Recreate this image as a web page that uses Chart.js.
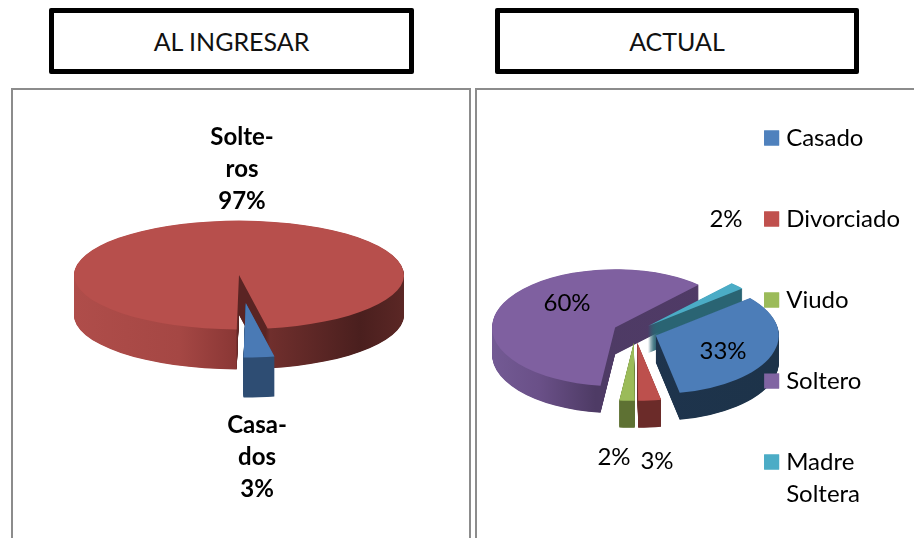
<!DOCTYPE html>
<html><head><meta charset="utf-8">
<script src="https://cdn.jsdelivr.net/npm/chart.js@4"></script>
<style>
html,body{margin:0;padding:0;background:#fff;width:914px;height:538px;overflow:hidden;position:relative;font-family:Lato,sans-serif}
.title{position:absolute;top:8px;height:56px;border:5px solid #000;border-radius:2px;background:#fff;display:flex;align-items:center;justify-content:center;font-size:25px;color:#111;box-sizing:content-box}
.frame{position:absolute;top:88px;height:460px;border:2px solid #8c8c8c;box-sizing:border-box}
canvas{position:absolute;top:0}
</style></head><body>
<div class="title" style="left:49px;width:355px">AL INGRESAR</div>
<div class="title" style="left:495px;width:354px">ACTUAL</div>
<div class="frame" style="left:11px;width:460px"></div>
<div class="frame" style="left:475px;width:460px"></div>
<div style="position:absolute;left:0;top:0;width:470px;height:538px"><canvas id="a"></canvas></div>
<div style="position:absolute;left:476px;top:0;width:434px;height:595px"><canvas id="b"></canvas></div>
<script>
const ingresoCategories = ['Casados', 'Solteros'];
const ingresoValues = [3, 97];
const ingresoExplode = [85, 0];
const ingresoColors = ['#4A7AB5', '#B74F4C'];
const ingresoSides = [
  [[0, '#2E4D73'], [1, '#2E4D73']],
  [[0, '#AF4D4A'], [.32, '#A54744'], [.49, '#8A3735'], [.497, '#5A2423'], [.58, '#5A2423'], [.594, '#702F2D'], [.867, '#4A1F1E'], [1, '#5B2725']]
];
const ingresoLabels = [
  {lines: ['Casa-', 'dos', '3%'], x: 257, y: 425},
  {lines: ['Solte-', 'ros', '97%'], x: 242, y: 137}
];

const actualCategories = ['Casado', 'Divorciado', 'Viudo', 'Soltero', ['Madre', 'Soltera']];
const actualValues = [33, 3, 2, 60, 2];
const actualExplode = [22, 22, 22, 22, 18];
const actualColors = ['#4C7DB8', '#BD504D', '#9BBB59', '#7F60A0', '#4BACC6'];
const actualLegendColors = ['#4F81BD', '#C0504D', '#9BBB59', '#8064A2', '#4BACC6'];
const actualSides = [
  [[0, '#24395A'], [.3, '#1E344E'], [1, '#1D3349']],
  [[0, '#6B2B29'], [1, '#6B2B29']],
  [[0, '#5E7133'], [1, '#5E7133']],
  [[0, '#735A94'], [.19, '#6A5088'], [.42, '#4E3B65'], [1, '#503A66']],
  [[0, '#2A6473'], [1, '#2A6473']]
];
const actualLabels = [
  {lines: ['33%'], x: 247, y: 351},
  {lines: ['3%'], x: 181, y: 461},
  {lines: ['2%'], x: 138, y: 457},
  {lines: ['60%'], x: 91, y: 303},
  {lines: ['2%'], x: 250, y: 219}
];

function plainArc(fill) {
  return {offset: 0, spacing: 0, circular: true, borderWidth: 0, borderColor: 'transparent',
    borderAlign: 'center', borderRadius: 0, borderJoinStyle: 'round', borderDash: [], borderDashOffset: 0,
    backgroundColor: fill};
}
const solidPie = {
  id: 'solidPie',
  beforeDatasetDraw(chart) {
    const o = chart.options.plugins.solidPie, ctx = chart.ctx;
    const arcs = chart.getDatasetMeta(0).data;
    const cx = arcs[0].x, cy = arcs[0].y, r = arcs[0].outerRadius;
    ctx.save();
    ctx.translate(cx + o.shiftX, cy); ctx.scale(1, o.tilt); ctx.translate(-cx, -cy);
    o.order.forEach(i => {
      const arc = arcs[i], mid = (arc.startAngle + arc.endAngle) / 2, base = arc.options;
      ctx.save();
      ctx.translate(Math.cos(mid) * o.explode[i], Math.sin(mid) * o.explode[i]);
      const g = ctx.createLinearGradient(cx - r, 0, cx + r, 0);
      o.sides[i].forEach(s => g.addColorStop(s[0], s[1]));
      arc.options = plainArc(g);
      for (let d = o.depth; d > 0; d -= 0.5) {
        ctx.save(); ctx.translate(0, d / o.tilt); arc.draw(ctx); ctx.restore();
      }
      arc.options = plainArc(base.backgroundColor);
      arc.draw(ctx);
      arc.options = base;
      ctx.restore();
    });
    ctx.restore();
    return false;
  },
  afterDraw(chart) {
    const o = chart.options.plugins.solidPie, ctx = chart.ctx;
    if (o.legendOnTop && chart.legend) {
      const hit = chart.legend.legendHitBoxes[0];
      ctx.save();
      ctx.beginPath(); ctx.rect(hit.left - 6, 0, 17, chart.height); ctx.clip();
      chart.legend.draw();
      ctx.restore();
    }
    ctx.save();
    ctx.font = o.labelFont; ctx.fillStyle = '#000'; ctx.textAlign = 'center'; ctx.textBaseline = 'middle';
    o.labels.forEach(l => l.lines.forEach((t, n) => ctx.fillText(t, l.x, l.y + n * 32)));
    ctx.restore();
  }
};
new Chart(document.getElementById('a'), {
  type: 'pie', plugins: [solidPie],
  data: {labels: ingresoCategories, datasets: [{data: ingresoValues, backgroundColor: ingresoColors, borderWidth: 0}]},
  options: {
    responsive: true, maintainAspectRatio: false, animation: false, rotation: 170, radius: 165,
    layout: {padding: {left: 8, top: 12}},
    plugins: {legend: {display: false}, tooltip: {enabled: false},
      solidPie: {tilt: .33, depth: 40, shiftX: 0, legendOnTop: false, explode: ingresoExplode, sides: ingresoSides, order: [1, 0],
        labels: ingresoLabels, labelFont: 'bold 24px Lato'}}
  }
});
new Chart(document.getElementById('b'), {
  type: 'pie', plugins: [solidPie],
  data: {labels: actualCategories, datasets: [{data: actualValues, backgroundColor: actualColors, borderWidth: 0}]},
  options: {
    responsive: true, maintainAspectRatio: false, animation: false, rotation: 50, radius: 123,
    layout: {padding: {top: 69, left: 34, right: 0}},
    plugins: {tooltip: {enabled: false},
      legend: {position: 'right', align: 'start',
        labels: {boxWidth: 5, boxHeight: 5, padding: 57, color: '#000', font: {family: 'Lato', size: 24, lineHeight: 1.33},
          generateLabels: () => actualCategories.map((c, i) => ({text: c, fillStyle: actualLegendColors[i],
            strokeStyle: actualLegendColors[i], lineWidth: 10, lineJoin: 'miter', index: i}))}},
      solidPie: {tilt: .475, depth: 27, shiftX: 24, legendOnTop: true, explode: actualExplode, sides: actualSides, order: [3, 4, 0, 2, 1],
        labels: actualLabels, labelFont: '24px Lato'}}
  }
});
</script>
</body></html>
